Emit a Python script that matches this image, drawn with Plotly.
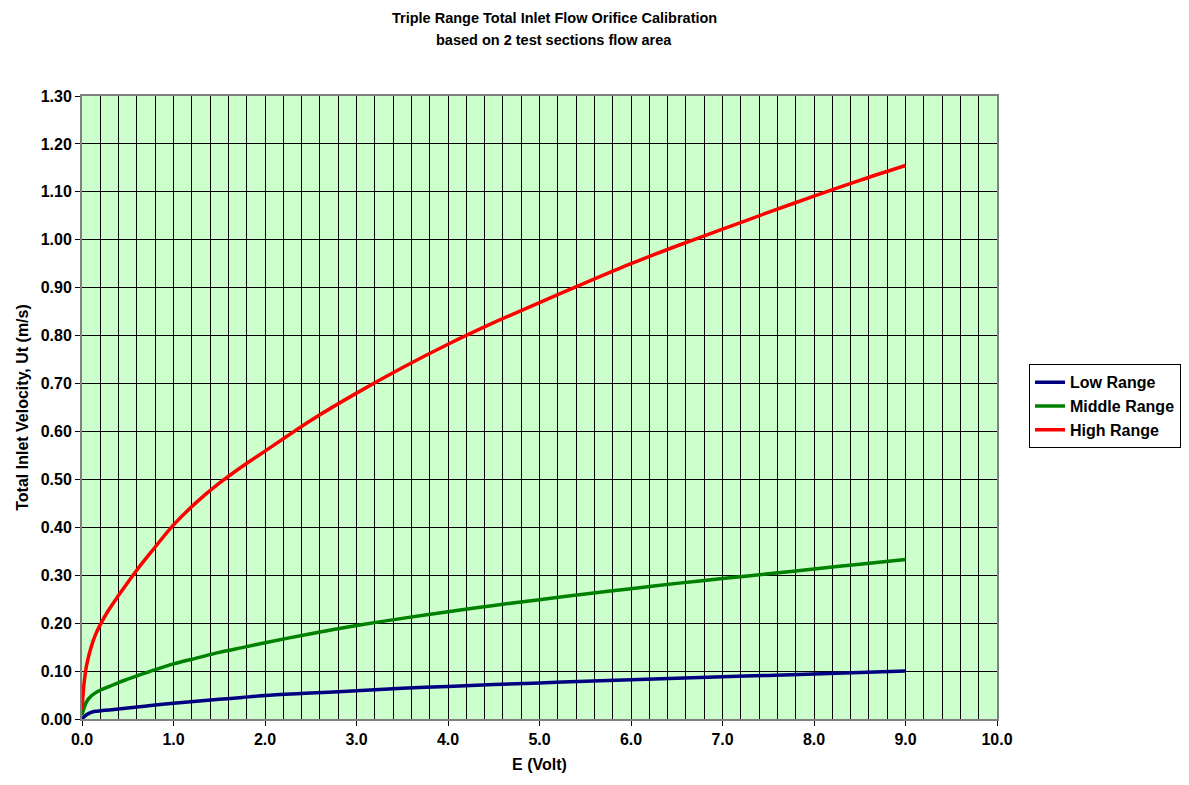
import plotly.graph_objects as go

# Supply voltage E (Volt) at which the orifice velocity was evaluated
e_volt = [0.0, 0.02, 0.05, 0.1, 0.15, 0.2, 0.3, 0.4, 0.5, 0.6, 0.75, 1.0, 1.25, 1.5, 1.75,
          2.0, 2.5, 3.0, 3.5, 4.0, 4.5, 5.0, 5.5, 6.0, 6.5, 7.0, 7.5, 8.0, 8.5, 9.0]

# Total inlet velocity Ut (m/s) for each orifice range
low_range = [0.0, 0.004, 0.009, 0.014, 0.016, 0.017, 0.019, 0.021, 0.023, 0.025, 0.028, 0.033,
             0.037, 0.041, 0.045, 0.049, 0.054, 0.059, 0.064, 0.068, 0.072, 0.075, 0.079,
             0.082, 0.085, 0.088, 0.091, 0.094, 0.097, 0.100]
middle_range = [0.008, 0.022, 0.036, 0.048, 0.055, 0.060, 0.068, 0.076, 0.083, 0.090, 0.100,
                0.115, 0.127, 0.139, 0.149, 0.159, 0.178, 0.195, 0.210, 0.224, 0.237, 0.249,
                0.261, 0.272, 0.283, 0.293, 0.303, 0.313, 0.323, 0.333]
high_range = [0.020, 0.070, 0.112, 0.150, 0.177, 0.197, 0.230, 0.258, 0.285, 0.311, 0.347,
              0.405, 0.452, 0.492, 0.527, 0.559, 0.623, 0.680, 0.733, 0.782, 0.827, 0.869,
              0.910, 0.950, 0.987, 1.022, 1.057, 1.091, 1.124, 1.155]

series = [
    ("Low Range", low_range, "#000080"),
    ("Middle Range", middle_range, "#008000"),
    ("High Range", high_range, "#FF0000"),
]

font_family = "Liberation Sans, Arial, sans-serif"

fig = go.Figure()
for name, values, color in series:
    fig.add_trace(go.Scatter(
        x=e_volt, y=values, name=f"<b>{name}</b>", mode="lines",
        line=dict(color=color, width=3.5, shape="spline", smoothing=0.8),
    ))

# Two-line chart title
title_lines = [
    ("Triple Range Total Inlet Flow Orifice Calibration", 18),
    ("based on 2 test sections flow area", 40),
]
for text, ypix in title_lines:
    fig.add_annotation(
        text=f"<b>{text}</b>", xref="paper", yref="paper",
        x=(553 - 82) / 913, y=(785 - 66 - ypix) / 623,
        xanchor="center", yanchor="middle", showarrow=False,
        font=dict(size=14.5, family=font_family, color="black"),
    )

fig.update_layout(
    width=1189, height=785,
    margin=dict(l=82, r=192, t=96, b=66, autoexpand=False),
    paper_bgcolor="white",
    plot_bgcolor="#CCFFCC",
    font=dict(family=font_family, color="black"),
    showlegend=True,
    legend=dict(
        x=1.035, xanchor="left", y=0.502, yanchor="middle",
        bgcolor="white", bordercolor="black", borderwidth=1,
        font=dict(size=16, family=font_family, color="black"),
        tracegroupgap=0, itemwidth=30,
    ),
)

fig.update_xaxes(
    range=[0, 10], dtick=1, tick0=0, tickformat=".1f",
    showgrid=True, gridcolor="black", gridwidth=1,
    minor=dict(dtick=0.2, showgrid=True, gridcolor="black", gridwidth=1),
    ticks="outside", ticklen=5, tickcolor="black",
    showline=True, linecolor="#808080", linewidth=2, mirror=True,
    zeroline=False,
    tickfont=dict(size=16, family=font_family, color="black", weight="bold"),
    title=dict(text="<b>E (Volt)</b>", font=dict(size=16, family=font_family, color="black"), standoff=12),
)
fig.update_yaxes(
    range=[0, 1.3], dtick=0.1, tick0=0, tickformat=".2f",
    showgrid=True, gridcolor="black", gridwidth=1,
    ticks="outside", ticklen=5, tickcolor="black",
    showline=True, linecolor="#808080", linewidth=2, mirror=True,
    zeroline=False,
    tickfont=dict(size=16, family=font_family, color="black", weight="bold"),
    title=dict(text="<b>Total Inlet Velocity, Ut (m/s)</b>", font=dict(size=16, family=font_family, color="black"), standoff=8),
)

fig.write_html("out.html")
